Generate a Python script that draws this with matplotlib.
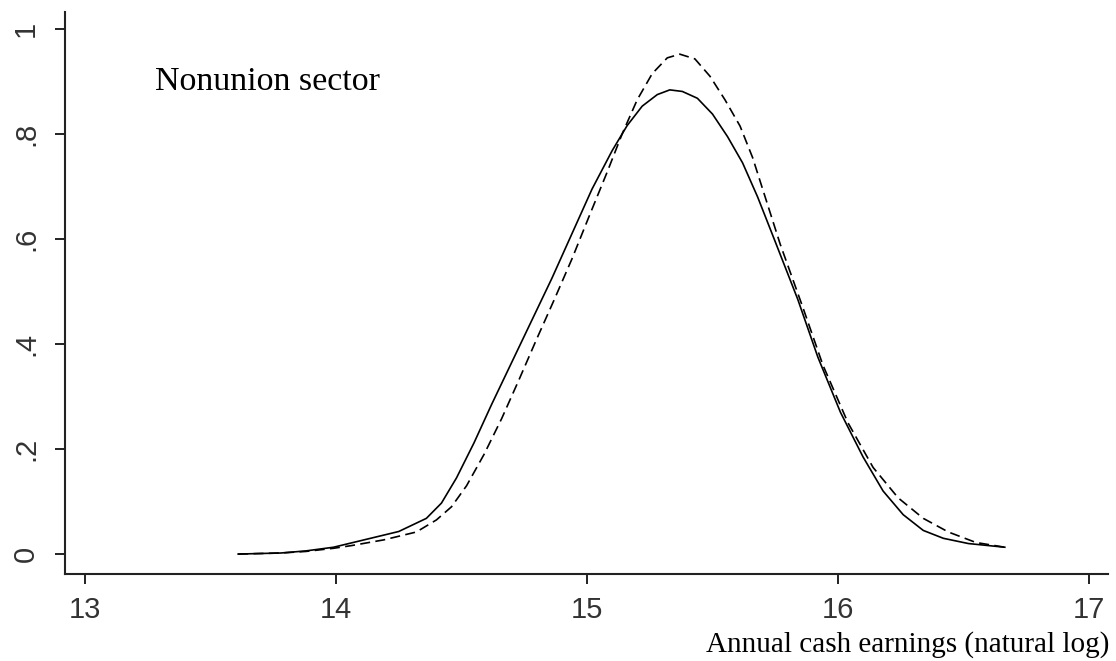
import matplotlib.pyplot as plt
import numpy as np

# solid curve
solid_x = [13.61, 13.78, 13.88, 13.99, 14.12, 14.25, 14.36, 14.42, 14.48, 14.55,
           14.62, 14.70, 14.78, 14.86, 14.94, 15.02, 15.10, 15.16, 15.22, 15.28,
           15.33, 15.38, 15.44, 15.50, 15.56, 15.62, 15.68, 15.75, 15.84, 15.92,
           16.01, 16.10, 16.18, 16.26, 16.34, 16.42, 16.52, 16.665]
solid_y = [0.0, 0.002, 0.006, 0.013, 0.028, 0.043, 0.068, 0.097, 0.145, 0.212,
           0.285, 0.365, 0.445, 0.525, 0.61, 0.695, 0.768, 0.816, 0.853, 0.875,
           0.884, 0.881, 0.868, 0.838, 0.795, 0.745, 0.68, 0.595, 0.485, 0.375,
           0.27, 0.185, 0.12, 0.075, 0.045, 0.03, 0.02, 0.013]

# dashed curve
dashed_x = [13.61, 13.78, 13.88, 13.99, 14.06, 14.19, 14.32, 14.40, 14.46, 14.52,
            14.59, 14.66, 14.73, 14.80, 14.87, 14.94, 15.01, 15.08, 15.14, 15.20,
            15.26, 15.32, 15.37, 15.43, 15.49, 15.55, 15.61, 15.66, 15.71, 15.77,
            15.86, 15.94, 16.04, 16.14, 16.24, 16.34, 16.44, 16.55, 16.665]
dashed_y = [0.0, 0.002, 0.005, 0.011, 0.016, 0.027, 0.042, 0.065, 0.09, 0.13,
            0.19, 0.258, 0.333, 0.41, 0.485, 0.562, 0.645, 0.727, 0.80, 0.865,
            0.915, 0.945, 0.952, 0.943, 0.91, 0.865, 0.815, 0.755, 0.68, 0.59,
            0.47, 0.36, 0.25, 0.165, 0.107, 0.068, 0.042, 0.022, 0.013]

xticks = [13, 14, 15, 16, 17]
yticks = [0, 0.2, 0.4, 0.6, 0.8, 1.0]
ytick_labels = ['0', '.2', '.4', '.6', '.8', '1']

fig = plt.figure(figsize=(11.16, 6.61), dpi=100)
ax = fig.add_axes([0.0578, 0.1316, 0.935, 0.850])

ax.plot(solid_x, solid_y, color='black', lw=1.2)
ax.plot(dashed_x, dashed_y, color='black', lw=1.2, dashes=(6, 3.2))

ax.set_xlim(12.918, 17.076)
ax.set_ylim(-0.038, 1.032)

for s in ['top', 'right']:
    ax.spines[s].set_visible(False)
for s in ['left', 'bottom']:
    ax.spines[s].set_linewidth(1.5)
    ax.spines[s].set_color('#222222')

ax.set_xticks(xticks)
ax.set_xticklabels([str(t) for t in xticks], fontfamily='Liberation Sans',
                   fontsize=21, color='#333333')
ax.set_yticks(yticks)
ax.set_yticklabels(ytick_labels, fontfamily='Liberation Sans', fontsize=21,
                   color='#333333', rotation=90, va='center')
ax.tick_params(direction='out', length=7.5, width=1.4, color='#222222')
ax.tick_params(axis='x', pad=8)
ax.tick_params(axis='y', pad=10)

fig.text(155 / 1116, (661 - 90) / 661, 'Nonunion sector', fontfamily='Liberation Serif',
         fontsize=24.5, ha='left', va='baseline')
fig.text(1109 / 1116, (661 - 652) / 661, 'Annual cash earnings (natural log)',
         fontfamily='Liberation Serif', fontsize=21, ha='right', va='baseline')

fig.savefig('out.png', dpi=100)
